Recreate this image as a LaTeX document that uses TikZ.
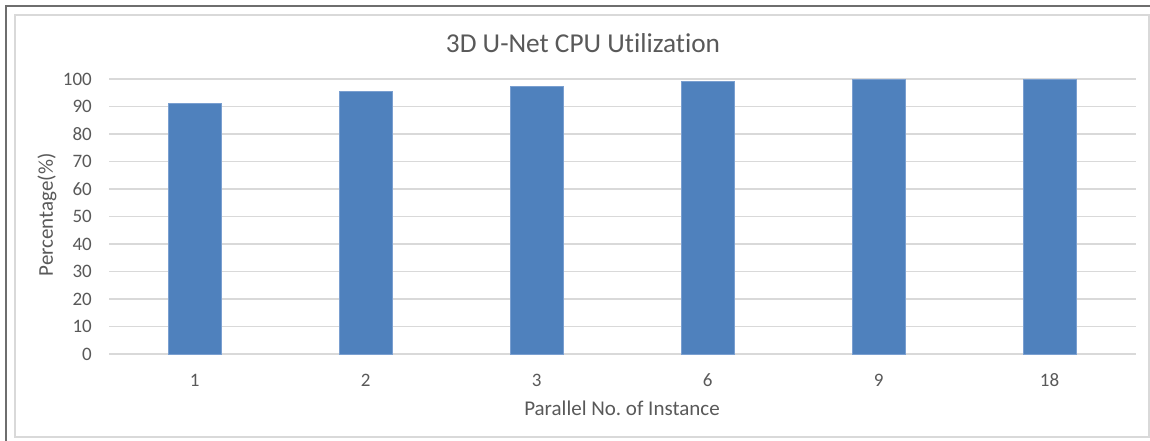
\documentclass[tikz,border=0pt]{standalone}
\usepackage{fontspec}
\setmainfont[Ligatures=NoCommon]{Carlito}
\definecolor{barblue}{HTML}{4F81BD}
\definecolor{baredge}{HTML}{7A9FD0}
\definecolor{txt}{HTML}{595959}
\definecolor{grid}{HTML}{D9D9D9}
\definecolor{frame}{HTML}{6E6E6E}
\tikzset{
  gridline/.style={draw=grid, line width=1.3pt},
  bar/.style={fill=barblue, draw=baredge, line width=0.6pt},
  ticklabel/.style={text=txt, font=\fontsize{19}{19}\selectfont, inner sep=0pt},
  axistitle/.style={text=txt, font=\fontsize{21}{21}\selectfont, inner sep=0pt},
  charttitle/.style={text=txt, font=\fontsize{27.3}{27.3}\selectfont, inner sep=0pt},
}
\begin{document}
\frenchspacing
\begin{tikzpicture}[x=1pt, y=-1pt]
\useasboundingbox (0,0) rectangle (1150,441);
\fill[white] (0,0) rectangle (1150,441);
% outer window frame and chart area border
\draw[frame, line width=2pt] (6,445) -- (6,6) -- (1155,6);
\draw[grid, line width=1.2pt] (15,15) rectangle (1149,437);
% title
\node[charttitle] (title) at (583,43) {3D U-Net CPU Utilization};
% horizontal gridlines with y tick labels (0 at y=354, 2.75 px per unit)
\foreach \v in {0,10,...,100} {
  \pgfmathsetmacro{\yy}{354-2.75*\v}
  \draw[gridline] (109,\yy) -- (1136,\yy);
  \node[ticklabel, anchor=east] (y\v) at (92,\yy) {\v};
}
% bars
\foreach \i/\lab/\val in {0/1/91.2, 1/2/95.4, 2/3/97.5, 3/6/99.3, 4/9/100, 5/18/100} {
  \pgfmathsetmacro{\cx}{194.6+171*\i}
  \pgfmathsetmacro{\top}{354-2.75*\val}
  \draw[bar] (\cx-26.7,354) rectangle (\cx+26.7,\top);
  \node[ticklabel] (x\i) at (\cx,380) {\lab};
}
% axis titles
\node[axistitle] (xtitle) at (622,408) {Parallel No.\ of Instance};
\node[axistitle, rotate=90] (ytitle) at (47,215) {Percentage(\%)};
\end{tikzpicture}
\end{document}
